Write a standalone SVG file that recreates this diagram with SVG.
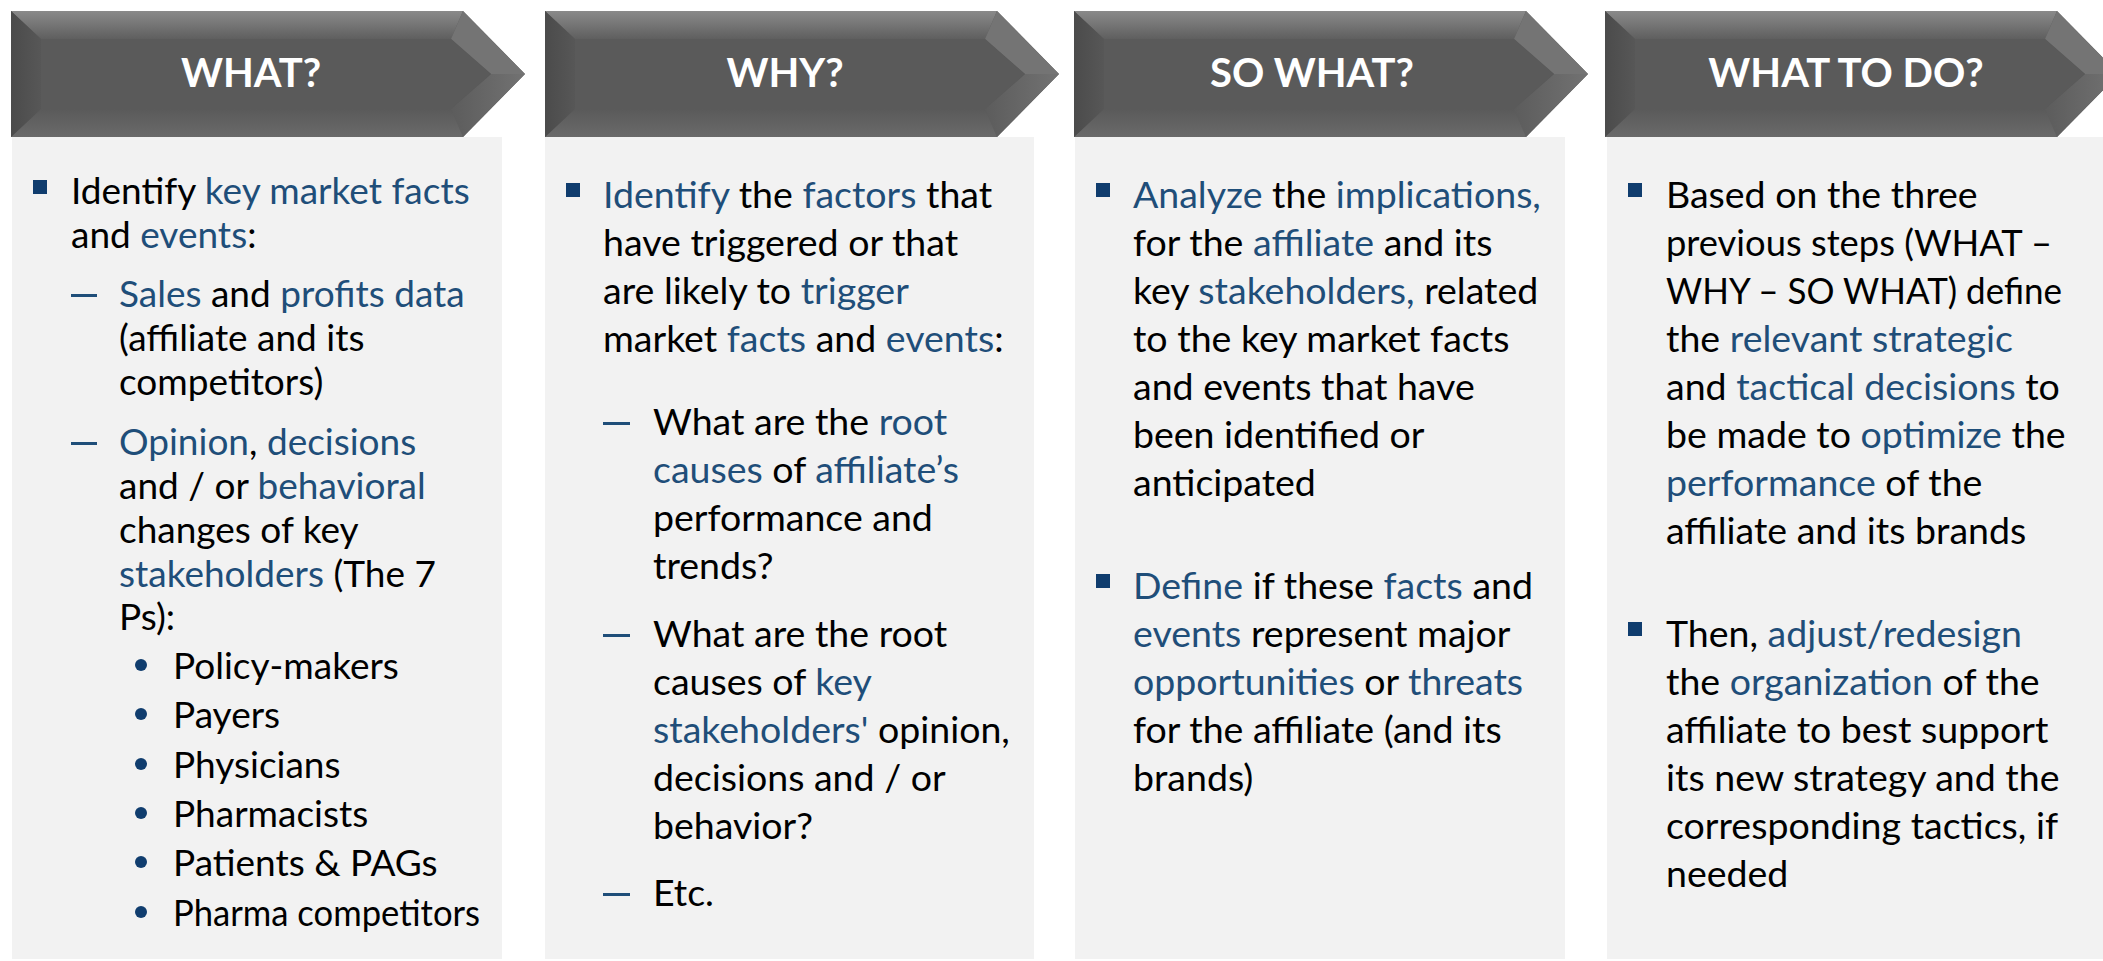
<svg xmlns="http://www.w3.org/2000/svg" width="2103" height="961" viewBox="0 0 2103 961">
<defs>
<linearGradient id="gTop" x1="0" y1="0" x2="0" y2="1"><stop offset="0" stop-color="#8a8a8a"/><stop offset="1" stop-color="#5f5f5f"/></linearGradient>
<linearGradient id="gBot" x1="0" y1="0" x2="0" y2="1"><stop offset="0" stop-color="#5a5a5a"/><stop offset="1" stop-color="#6a6a6a"/></linearGradient>
<linearGradient id="gLeft" x1="0" y1="0" x2="1" y2="0"><stop offset="0" stop-color="#4b4b4b"/><stop offset="1" stop-color="#575757"/></linearGradient>
<linearGradient id="gRight" x1="0" y1="0" x2="1" y2="0"><stop offset="0" stop-color="#5c5c5c"/><stop offset="1" stop-color="#727272"/></linearGradient>
<g id="hdr">
<polygon points="0,0 452,0 514,63 452,126 0,126" fill="#5a5a5a"/>
<polygon points="0,0 452,0 440,28 30,28" fill="url(#gTop)"/>
<polygon points="452,0 514,63 480,63 440,28" fill="#747474"/>
<polygon points="514,63 452,126 440,98 480,63" fill="url(#gRight)"/>
<polygon points="452,126 0,126 30,98 440,98" fill="url(#gBot)"/>
<polygon points="0,0 30,28 30,98 0,126" fill="url(#gLeft)"/>
<polygon points="30,28 440,28 480,63 440,98 30,98" fill="#5a5a5a"/>
</g>
</defs>
<style>
.hd{font-family:Lato,"Liberation Sans",sans-serif;font-weight:700;font-size:40px;fill:#ffffff;text-anchor:middle}
.t{font-family:Lato,"Liberation Sans",sans-serif;font-size:37.5px;fill:#000000}
.t1{font-family:Lato,"Liberation Sans",sans-serif;font-size:37px;fill:#000000}
.b{fill:#1f4e79}
.panel{fill:#f2f2f2}
.sq{fill:#103d6e}
.dash{fill:#1f4e79}
.dot{fill:#103d6e}
</style>
<rect width="2103" height="961" fill="#ffffff"/>

<g id="col-what">
<rect class="panel" x="12" y="137" width="490" height="822"/>
<use href="#hdr" x="11" y="11"/>
<text class="hd" x="251" y="87">WHAT?</text>
<rect class="sq" x="33" y="180" width="14" height="14"/>
<text class="t1" x="71" y="204">Identify <tspan class="b">key market facts</tspan></text>
<text class="t1" x="71" y="248">and <tspan class="b">events</tspan>:</text>
<rect class="dash" x="71" y="294" width="26" height="3"/>
<text class="t1" x="119" y="307"><tspan class="b">Sales</tspan> and <tspan class="b">profits data</tspan></text>
<text class="t1" x="119" y="351">(affiliate and its</text>
<text class="t1" x="119" y="395">competitors)</text>
<rect class="dash" x="71" y="442" width="26" height="3"/>
<text class="t1" x="119" y="455"><tspan class="b">Opinion</tspan>, <tspan class="b">decisions</tspan></text>
<text class="t1" x="119" y="499">and / or <tspan class="b">behavioral</tspan></text>
<text class="t1" x="119" y="543">changes of key</text>
<text class="t1" x="119" y="587"><tspan class="b">stakeholders</tspan> (The 7</text>
<text class="t1" x="119" y="630">Ps):</text>
<circle class="dot" cx="141" cy="665" r="6"/>
<text class="t1" x="173" y="679">Policy-makers</text>
<circle class="dot" cx="141" cy="714" r="6"/>
<text class="t1" x="173" y="728">Payers</text>
<circle class="dot" cx="141" cy="764" r="6"/>
<text class="t1" x="173" y="778">Physicians</text>
<circle class="dot" cx="141" cy="813" r="6"/>
<text class="t1" x="173" y="827">Pharmacists</text>
<circle class="dot" cx="141" cy="862" r="6"/>
<text class="t1" x="173" y="876">Patients &amp; PAGs</text>
<circle class="dot" cx="141" cy="912" r="6"/>
<text class="t1" x="173" y="926" textLength="307" lengthAdjust="spacingAndGlyphs">Pharma competitors</text>
</g>

<g id="col-why">
<rect class="panel" x="545" y="137" width="489" height="822"/>
<use href="#hdr" x="545" y="11"/>
<text class="hd" x="785" y="87">WHY?</text>
<rect class="sq" x="566" y="183" width="14" height="14"/>
<text class="t" x="603" y="208"><tspan class="b">Identify</tspan> the <tspan class="b">factors</tspan> that</text>
<text class="t" x="603" y="256">have triggered or that</text>
<text class="t" x="603" y="304">are likely to <tspan class="b">trigger</tspan></text>
<text class="t" x="603" y="352">market <tspan class="b">facts</tspan> and <tspan class="b">events</tspan>:</text>
<rect class="dash" x="603" y="422" width="27" height="3"/>
<text class="t" x="653" y="435">What are the <tspan class="b">root</tspan></text>
<text class="t" x="653" y="483"><tspan class="b">causes</tspan> of <tspan class="b">affiliate’s</tspan></text>
<text class="t" x="653" y="531">performance and</text>
<text class="t" x="653" y="579">trends?</text>
<rect class="dash" x="603" y="634" width="27" height="3"/>
<text class="t" x="653" y="647">What are the root</text>
<text class="t" x="653" y="695">causes of <tspan class="b">key</tspan></text>
<text class="t" x="653" y="743"><tspan class="b">stakeholders'</tspan> opinion,</text>
<text class="t" x="653" y="791">decisions and / or</text>
<text class="t" x="653" y="839">behavior?</text>
<rect class="dash" x="603" y="893" width="27" height="3"/>
<text class="t" x="653" y="906">Etc.</text>
</g>

<g id="col-sowhat">
<rect class="panel" x="1075" y="137" width="490" height="822"/>
<use href="#hdr" x="1074" y="11"/>
<text class="hd" x="1312" y="87">SO WHAT?</text>
<rect class="sq" x="1096" y="183" width="14" height="14"/>
<text class="t" x="1133" y="208"><tspan class="b">Analyze</tspan> the <tspan class="b">implications,</tspan></text>
<text class="t" x="1133" y="256">for the <tspan class="b">affiliate</tspan> and its</text>
<text class="t" x="1133" y="304">key <tspan class="b">stakeholders,</tspan> related</text>
<text class="t" x="1133" y="352">to the key market facts</text>
<text class="t" x="1133" y="400">and events that have</text>
<text class="t" x="1133" y="448">been identified or</text>
<text class="t" x="1133" y="496">anticipated</text>
<rect class="sq" x="1096" y="574" width="14" height="14"/>
<text class="t" x="1133" y="599"><tspan class="b">Define</tspan> if these <tspan class="b">facts</tspan> and</text>
<text class="t" x="1133" y="647"><tspan class="b">events</tspan> represent major</text>
<text class="t" x="1133" y="695"><tspan class="b">opportunities</tspan> or <tspan class="b">threats</tspan></text>
<text class="t" x="1133" y="743">for the affiliate (and its</text>
<text class="t" x="1133" y="791">brands)</text>
</g>

<g id="col-whattodo">
<rect class="panel" x="1607" y="137" width="496" height="822"/>
<use href="#hdr" x="1605" y="11"/>
<text class="hd" x="1846" y="87">WHAT TO DO?</text>
<rect class="sq" x="1628" y="183" width="14" height="14"/>
<text class="t" x="1666" y="208">Based on the three</text>
<text class="t" x="1666" y="256" textLength="386" lengthAdjust="spacingAndGlyphs">previous steps (WHAT –</text>
<text class="t" x="1666" y="304" textLength="396" lengthAdjust="spacingAndGlyphs">WHY – SO WHAT) define</text>
<text class="t" x="1666" y="352">the <tspan class="b">relevant strategic</tspan></text>
<text class="t" x="1666" y="400">and <tspan class="b">tactical decisions</tspan> to</text>
<text class="t" x="1666" y="448">be made to <tspan class="b">optimize</tspan> the</text>
<text class="t" x="1666" y="496"><tspan class="b">performance</tspan> of the</text>
<text class="t" x="1666" y="544">affiliate and its brands</text>
<rect class="sq" x="1628" y="622" width="14" height="14"/>
<text class="t" x="1666" y="647">Then, <tspan class="b">adjust/redesign</tspan></text>
<text class="t" x="1666" y="695">the <tspan class="b">organization</tspan> of the</text>
<text class="t" x="1666" y="743">affiliate to best support</text>
<text class="t" x="1666" y="791">its new strategy and the</text>
<text class="t" x="1666" y="839">corresponding tactics, if</text>
<text class="t" x="1666" y="887">needed</text>
</g>

<g id="connectors"></g>
</svg>
